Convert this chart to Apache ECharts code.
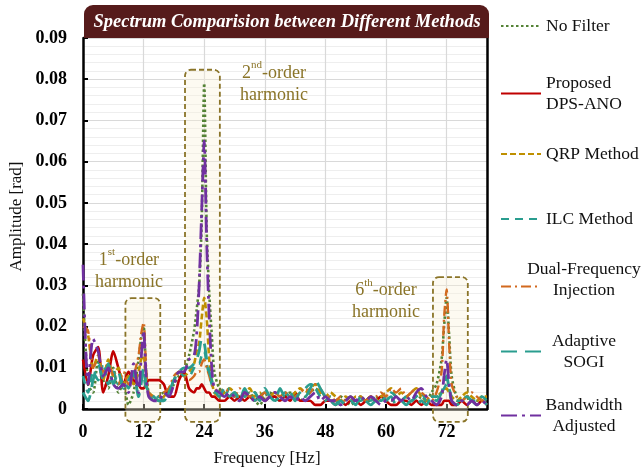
<!DOCTYPE html>
<html>
<head>
<meta charset="utf-8">
<script src="https://cdn.jsdelivr.net/npm/echarts@6/dist/echarts.min.js"></script>
<style>html,body{margin:0;padding:0;background:#fff;}#c{width:644px;height:471px;}</style>
</head>
<body>
<div id="c"></div>
<script>
// ---------------- DATA ----------------
const freq = [0,1,2,3,4,5,6,7,8,9,10,11,11.5,12,12.5,
  13,14,15,16,17,18,19,20,21,22,
  22.5,23,23.5,24,24.5,25,25.5,
  26,27,28,29,30,31,32,33,34,35,
  36,37,38,39,40,41,42,43,44,45,
  46,47,48,49,50,51,52,53,54,55,
  56,57,58,59,60,61,62,63,64,65,
  66,67,68,69,70,71,
  71.5,72,72.5,
  73,74,75,76,77,78,79,80];

const noFilter = [0.028,0.006,0.004,0.012,0.007,0.005,0.010,0.004,0.006,0.001,0.004,0.012, 0.017,0.020,0.009,
  0.004,0.002,0.003,0.004,0.004,0.006,0.008,0.009,0.013,0.019,
  0.024,0.030,0.045,0.079,0.043,0.028,0.018,
  0.009,0.005,0.004,0.003,0.004,0.002,0.003,0.004,0.002,0.001,
  0.003,0.004,0.003,0.002,0.003,0.004,0.003,0.002,0.003,0.004,
  0.005,0.004,0.003,0.002,0.002,0.003,0.002,0.001,0.002,0.003,
  0.002,0.002,0.003,0.002,0.003,0.002,0.003,0.002,0.003,0.002,
  0.002,0.003,0.002,0.004,0.006,0.012,
  0.020,0.027,0.018,
  0.008,0.003,0.002,0.003,0.002,0.002,0.003,0.002];

const proposed = [0.012,0.006,0.013,0.015,0.004,0.008,0.014,0.010,0.006,0.009,0.007,0.006, 0.005,0.005,0.006,
  0.007,0.007,0.007,0.006,0.003,0.003,0.007,0.009,0.005,0.004,
  0.005,0.005,0.006,0.005,0.004,0.004,0.003,
  0.003,0.002,0.002,0.003,0.002,0.003,0.002,0.003,0.002,0.003,
  0.002,0.003,0.003,0.002,0.003,0.002,0.004,0.002,0.002,0.002,
  0.001,0.001,0.002,0.002,0.001,0.002,0.001,0.002,0.002,0.001,
  0.002,0.003,0.002,0.003,0.002,0.001,0.001,0.002,0.002,0.001,
  0.002,0.001,0.002,0.001,0.001,0.001,
  0.002,0.002,0.002,
  0.001,0.001,0.002,0.001,0.002,0.001,0.002,0.001];

const qrp = [0.022,0.018,0.010,0.013,0.007,0.012,0.008,0.010,0.006,0.008,0.006,0.009, 0.012,0.013,0.006,
  0.004,0.003,0.002,0.003,0.005,0.007,0.009,0.008,0.009,0.011,
  0.014,0.016,0.022,0.027,0.022,0.012,0.007,
  0.004,0.003,0.004,0.005,0.004,0.003,0.004,0.005,0.003,0.004,
  0.002,0.003,0.004,0.003,0.004,0.003,0.004,0.005,0.004,0.005,
  0.006,0.004,0.003,0.004,0.003,0.002,0.003,0.002,0.003,0.003,
  0.002,0.003,0.002,0.003,0.004,0.005,0.003,0.004,0.003,0.004,
  0.005,0.003,0.002,0.003,0.003,0.004,
  0.004,0.005,0.004,
  0.003,0.002,0.003,0.004,0.003,0.002,0.003,0.003];

const ilc = [0.008,0.004,0.009,0.007,0.011,0.006,0.009,0.006,0.007,0.005,0.008,0.007, 0.009,0.008,0.005,
  0.004,0.002,0.003,0.002,0.004,0.007,0.009,0.008,0.008,0.010,
  0.011,0.011,0.013,0.014,0.011,0.008,0.006,
  0.004,0.004,0.003,0.005,0.003,0.004,0.003,0.004,0.002,0.003,
  0.004,0.003,0.002,0.003,0.004,0.003,0.003,0.004,0.005,0.006,
  0.005,0.003,0.002,0.003,0.002,0.001,0.002,0.003,0.002,0.002,
  0.003,0.002,0.003,0.002,0.003,0.004,0.003,0.002,0.003,0.002,
  0.003,0.004,0.002,0.003,0.003,0.004,
  0.005,0.006,0.005,
  0.003,0.002,0.002,0.003,0.002,0.002,0.003,0.002];

const dualFreq = [0.020,0.019,0.010,0.012,0.009,0.011,0.008,0.006,0.009,0.006,0.008,0.013, 0.018,0.021,0.010,
  0.004,0.003,0.003,0.004,0.005,0.008,0.009,0.008,0.007,0.008,
  0.009,0.009,0.011,0.012,0.010,0.008,0.006,
  0.005,0.004,0.005,0.004,0.003,0.005,0.004,0.003,0.004,0.003,
  0.004,0.003,0.004,0.003,0.004,0.003,0.003,0.004,0.005,0.004,
  0.006,0.005,0.003,0.003,0.002,0.003,0.002,0.003,0.002,0.003,
  0.002,0.003,0.003,0.004,0.003,0.005,0.004,0.005,0.003,0.004,
  0.005,0.004,0.003,0.002,0.004,0.009,
  0.022,0.029,0.016,
  0.006,0.003,0.002,0.003,0.004,0.003,0.002,0.003];

const sogi = [0.004,0.002,0.007,0.011,0.007,0.011,0.006,0.009,0.005,0.007,0.009,0.003, 0.006,0.010,0.006,
  0.004,0.003,0.002,0.002,0.004,0.007,0.009,0.010,0.010,0.011,
  0.012,0.014,0.017,0.016,0.012,0.009,0.007,
  0.005,0.003,0.005,0.003,0.004,0.002,0.005,0.003,0.004,0.002,
  0.005,0.003,0.002,0.005,0.003,0.004,0.002,0.004,0.003,0.005,
  0.007,0.005,0.003,0.002,0.001,0.002,0.001,0.002,0.001,0.003,
  0.002,0.001,0.002,0.001,0.002,0.003,0.001,0.002,0.001,0.002,
  0.001,0.002,0.001,0.003,0.002,0.004,
  0.006,0.008,0.005,
  0.002,0.001,0.002,0.003,0.002,0.001,0.002,0.001];

const bandwidth = [0.035,0.006,0.017,0.014,0.008,0.010,0.006,0.005,0.006,0.004,0.011,0.004, 0.012,0.019,0.008,
  0.003,0.002,0.002,0.004,0.003,0.006,0.009,0.009,0.012,0.013,
  0.018,0.030,0.048,0.065,0.040,0.022,0.010,
  0.005,0.004,0.003,0.004,0.003,0.002,0.004,0.003,0.002,0.003,
  0.002,0.003,0.004,0.003,0.002,0.003,0.002,0.003,0.002,0.003,
  0.004,0.002,0.003,0.002,0.002,0.001,0.002,0.003,0.002,0.003,
  0.002,0.003,0.002,0.001,0.002,0.002,0.003,0.002,0.003,0.002,
  0.004,0.005,0.003,0.002,0.001,0.003,
  0.008,0.012,0.006,
  0.002,0.001,0.002,0.001,0.002,0.001,0.002,0.001];

const seriesNames = ['No Filter','Proposed DPS-ANO','QRP Method','ILC Method','Dual-Frequency Injection','Adaptive SOGI','Bandwidth Adjusted'];
const seriesValues = [noFilter, proposed, qrp, ilc, dualFreq, sogi, bandwidth];

// harmonic regions [fromHz, toHz, lowAmp, highAmp]
const harmonicBoxes = [[8.4,15.3,-0.0031,0.0269],[20.2,27.1,-0.0031,0.0823],[69.3,76.2,-0.0031,0.032]];
// label [order, suffix, centreHz, centreAmp]
const harmonicLabels = [['1','st',9.1,0.0340],['2','nd',37.8,0.0793],['6','th',60.0,0.0265]];

// ---------------- STYLE ----------------
const FONT = '"Liberation Serif","Times New Roman",serif';
const OLIVE = '#8a7428';
const styles = [
  {color:'#548235', type:[2.5,2.5], width:2.6},
  {color:'#C00000', type:'solid', width:2.6},
  {color:'#BF9000', type:[6,3], width:2.6},
  {color:'#2A9D8F', type:[8,6], width:2.6},
  {color:'#D2691E', type:[10,4,2,4], width:2.4},
  {color:'#2A9D8F', type:[16,8], width:2.8},
  {color:'#7030A0', type:[16,5,3,5], width:2.8}
];
const legendTops = [17, 74, 145, 210, 260, 332, 396];
const legendRich = {
  l:{fontSize:17.5,fontFamily:FONT,color:'#111',lineHeight:21},
  c:{fontSize:17.5,fontFamily:FONT,color:'#111',lineHeight:21,width:76,align:'center'}
};
const legendFmt = {
  'No Filter':'{l|No Filter}',
  'Proposed DPS-ANO':'{l|Proposed}\n{l|DPS-ANO}',
  'QRP Method':'{l|QRP Method}',
  'ILC Method':'{l|ILC Method}',
  'Dual-Frequency Injection':'{c|Dual-Frequency}\n{c|Injection}',
  'Adaptive SOGI':'{c|Adaptive}\n{c|SOGI}',
  'Bandwidth Adjusted':'{c|Bandwidth}\n{c|Adjusted}'
};

const chart = echarts.init(document.getElementById('c'), null, {renderer:'canvas'});

const series = seriesNames.map((n,i)=>({
  name:n, type:'line', xAxisIndex:0, yAxisIndex:0,
  data: freq.map((f,k)=>[f, seriesValues[i][k]]),
  showSymbol:false, symbol:'none', smooth:0.25,
  lineStyle:{color:styles[i].color, type:styles[i].type, width:styles[i].width},
  itemStyle:{color:styles[i].color},
  z: 3
}));

const legends = seriesNames.map((n,i)=>({
  data:[n], left:500, top:legendTops[i], orient:'vertical', padding:0,
  itemWidth:40, itemHeight:14, itemGap:0, selectedMode:false,
  itemStyle:{opacity:0},
  formatter: ()=>legendFmt[n],
  textStyle:{rich:legendRich, fontFamily:FONT, fontSize:17.5,
    padding: n==='Dual-Frequency Injection' ? [0,0,14,0] : 0}
}));

chart.setOption({
  animation:false,
  backgroundColor:'#ffffff',
  grid:{left:83, right:157, top:38, bottom:62, show:false, containLabel:false, outerBoundsMode:'none'},
  legend: legends,
  xAxis:{
    type:'value', min:0, max:80, interval:12,
    name:'Frequency [Hz]', nameLocation:'middle', nameGap:41,
    nameTextStyle:{fontFamily:FONT, fontSize:17, color:'#111', padding:[0,36,0,0]},
    axisLine:{show:true, onZero:false, lineStyle:{color:'#000', width:2.5}},
    axisTick:{show:true, inside:true, length:5, lineStyle:{color:'#000', width:2}},
    axisLabel:{fontFamily:FONT, fontSize:18, fontWeight:'bold', color:'#000', margin:14, showMaxLabel:false},
    splitLine:{show:true, lineStyle:{color:'#d9d9d9', width:1.2}}
  },
  yAxis:[{
    type:'value', min:0, max:0.09, interval:0.01,
    name:'Amplitude [rad]', nameLocation:'middle', nameGap:53, nameRotate:90,
    nameTextStyle:{fontFamily:FONT, fontSize:17, color:'#111', padding:[0,0,0,14]},
    axisLine:{show:true, lineStyle:{color:'#000', width:2.5}},
    axisTick:{show:true, inside:true, length:5, lineStyle:{color:'#000', width:2}},
    axisLabel:{fontFamily:FONT, fontSize:18, fontWeight:'bold', color:'#000', margin:16,
      formatter:v=>v===0?'0':v.toFixed(2)},
    splitLine:{show:true, lineStyle:{color:'#d9d9d9', width:1.2}},
    minorTick:{show:false, splitNumber:5},
    minorSplitLine:{show:true, lineStyle:{color:'#eeeeee', width:1}}
  },{
    type:'value', min:0, max:0.09, interval:0.01, position:'right',
    axisLine:{show:true, lineStyle:{color:'#000', width:2.5}},
    axisTick:{show:false}, axisLabel:{show:false}, splitLine:{show:false}
  }],
  series: series
});

// ---------- annotations (positioned through the chart's own scales) ----------
function px(x,y){ return chart.convertToPixel({xAxisIndex:0, yAxisIndex:0}, [x,y]); }
const g = [];
const tl = px(0,0.09), br = px(80,0);
g.push({type:'rect', z:10, shape:{x:tl[0]+1, y:5, width:br[0]-tl[0]+1, height:tl[1]-5, r:[9,9,0,0]},
  style:{fill:'#561b1b'}});
g.push({type:'text', z:11, x:(tl[0]+br[0])/2+2, y:(5+tl[1])/2+1,
  style:{text:'Spectrum Comparision between Different Methods', fill:'#fff', font:'italic bold 18.5px '+FONT,
    textAlign:'center', textVerticalAlign:'middle'}});
harmonicBoxes.forEach(b=>{
  const p1 = px(b[0], b[3]), p2 = px(b[1], b[2]);
  g.push({type:'rect', z:1, shape:{x:p1[0], y:p1[1], width:p2[0]-p1[0], height:p2[1]-p1[1], r:6},
    style:{fill:'rgba(250,240,215,0.35)', stroke:'#8a7428', lineWidth:1.8, lineDash:[5,3]}});
});
harmonicLabels.forEach(l=>{
  const p = px(l[2], l[3]);
  g.push({type:'text', z:5, x:p[0], y:p[1],
    style:{text:'{n|'+l[0]+'}{s|'+l[1]+'}{n|-order}\n{n|harmonic}', textAlign:'center', textVerticalAlign:'middle',
      rich:{
        n:{fontSize:18, fontFamily:FONT, fill:OLIVE, color:OLIVE, lineHeight:22, verticalAlign:'bottom'},
        s:{fontSize:11, fontFamily:FONT, fill:OLIVE, color:OLIVE, lineHeight:22, verticalAlign:'top', padding:[0,0,8,0]}
      }}});
});
chart.setOption({graphic:g});
</script>
</body>
</html>
